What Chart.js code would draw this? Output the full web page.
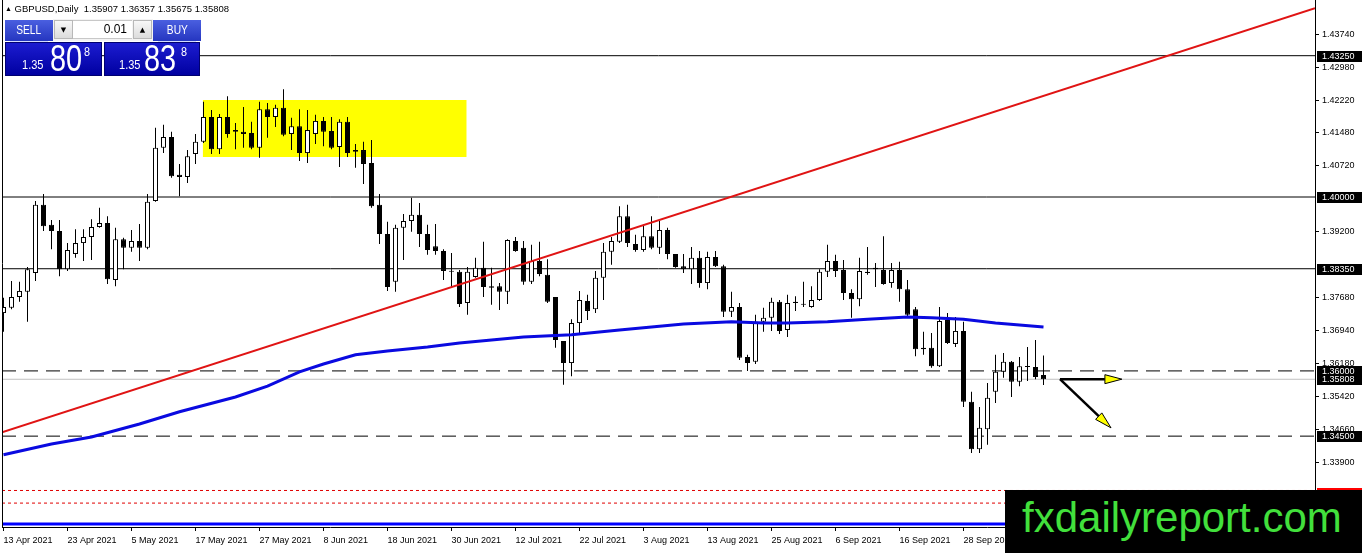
<!DOCTYPE html>
<html><head><meta charset="utf-8">
<script src="https://cdn.jsdelivr.net/npm/chart.js@4.4.0/dist/chart.umd.min.js"></script>
<style>
html,body{margin:0;padding:0;background:#fff;}
#wrap{position:relative;width:1362px;height:553px;overflow:hidden;}
#c{position:absolute;left:0;top:0;width:1362px;height:553px;}
#hdr{position:absolute;left:5px;top:3px;font:9.5px "Liberation Sans",Arial,sans-serif;color:#000;white-space:pre;}
#hdr .tri{font-size:7px;position:relative;top:-1px;}
.btn{position:absolute;top:20px;height:21px;width:48px;background:linear-gradient(#4a5fe0,#2536c0);color:#fff;font:12px "Liberation Sans",Arial,sans-serif;text-align:center;line-height:21px;}
.btn span{display:inline-block;transform:scaleX(0.85);}
.sep{position:absolute;top:41px;height:1px;background:rgba(200,210,255,0.8);}
.lot{position:absolute;left:53px;top:19px;width:100px;height:22px;background:#f4f4f4;}
.arr{position:absolute;top:1px;width:19px;height:19px;background:linear-gradient(#f8f8f8,#dcdcdc);border:1px solid #b8b8b8;box-sizing:border-box;font:7px "DejaVu Sans",sans-serif;text-align:center;line-height:18px;color:#000;}
.fld{position:absolute;left:20px;top:1px;width:59px;height:19px;background:#fff;border-top:1px solid #c8c8c8;border-bottom:1px solid #c8c8c8;box-sizing:border-box;font:12px "Liberation Sans",Arial,sans-serif;text-align:right;padding-right:5px;line-height:17px;color:#000;}
.price{position:absolute;top:42px;height:34px;background:linear-gradient(#1c1cd0,#0000a0);border:1px solid #000070;box-sizing:border-box;color:#fff;font-family:"Liberation Sans",Arial,sans-serif;}
.price span{position:absolute;line-height:1;white-space:nowrap;transform-origin:left top;}
.sm{font-size:13px;top:15px;transform:scaleX(0.85);}
.big{font-size:37px;top:-3px;transform:scaleX(0.78);}
.sup{font-size:12px;top:3px;transform:scaleX(0.9);}
#logo{position:absolute;left:1005px;top:490px;width:357px;height:63px;background:#000;}
#logo span{position:absolute;left:17px;top:7px;font:42px "Liberation Sans",Arial,sans-serif;line-height:42px;color:#42e03c;white-space:nowrap;}
</style></head>
<body>
<div id="wrap">
<canvas id="c" width="1362" height="553"></canvas>
<div id="hdr"></div>
<div class="btn" style="left:5px"><span>SELL</span></div>
<div class="lot"><div class="arr" style="left:1px">▼</div><div class="fld">0.01</div><div class="arr" style="left:80px">▲</div></div>
<div class="btn" style="left:153px"><span>BUY</span></div>
<div class="price" style="left:5px;width:97px"><span class="sm" style="left:16px">1.35</span><span class="big" style="left:44px">80</span><span class="sup" style="left:78px">8</span></div>
<div class="price" style="left:104px;width:96px"><span class="sm" style="left:14px">1.35</span><span class="big" style="left:39px">83</span><span class="sup" style="left:76px">8</span></div>
<div class="sep" style="left:10px;width:38px"></div>
<div class="sep" style="left:158px;width:38px"></div>
<div id="logo"><span>fxdailyreport.com</span></div>
</div>
<script>
// ---------- DATA ----------
const symbolTitle = "GBPUSD,Daily";
const xTickIdx = [0,8,16,24,32,40,48,56,64,72,80,88,96,104,112,120];
const xTickLabels = ["13 Apr 2021","23 Apr 2021","5 May 2021","17 May 2021","27 May 2021","8 Jun 2021","18 Jun 2021","30 Jun 2021","12 Jul 2021","22 Jul 2021","3 Aug 2021","13 Aug 2021","25 Aug 2021","6 Sep 2021","16 Sep 2021","28 Sep 2021"];
const yTickValues = [1.3390,1.3466,1.3542,1.3618,1.3694,1.3768,1.3920,1.4072,1.4148,1.4222,1.4298,1.4374];

const opens = [1.3733,1.3745,1.3770,1.3782,1.3825,1.3982,1.3936,1.3922,1.3834,1.3869,
1.3894,1.3908,1.3931,1.3940,1.3809,1.3903,1.3883,1.3899,1.3883,1.3991,
1.4113,1.4138,1.4051,1.4046,1.4099,1.4127,1.4184,1.4110,1.4184,1.4154,
1.4150,1.4147,1.4113,1.4202,1.4184,1.4205,1.4145,1.4163,1.4101,1.4145,
1.4175,1.4152,1.4115,1.4173,1.4104,1.4108,1.4078,1.3982,1.3915,1.3805,
1.3929,1.3945,1.3959,1.3915,1.3887,1.3876,1.3830,1.3828,1.3756,1.3816,
1.3837,1.3795,1.3795,1.3782,1.3899,1.3883,1.3805,1.3853,1.3821,1.3770,
1.3669,1.3618,1.3710,1.3761,1.3742,1.3814,1.3874,1.3897,1.3956,1.3892,
1.3878,1.3910,1.3883,1.3924,1.3869,1.3841,1.3834,1.3860,1.3802,1.3862,
1.3841,1.3736,1.3747,1.3632,1.3621,1.3713,1.3722,1.3759,1.3694,1.3759,
1.3754,1.3747,1.3763,1.3828,1.3853,1.3832,1.3779,1.3765,1.3828,1.3837,
1.3832,1.3802,1.3832,1.3788,1.3742,1.3653,1.3653,1.3611,1.3717,1.3662,
1.3692,1.3529,1.3420,1.3466,1.3552,1.3598,1.3621,1.3575,1.3609,1.3609,
1.35907];
const highs = [1.3768,1.3807,1.3805,1.3839,1.3991,1.4007,1.3947,1.3947,1.3894,1.3926,
1.3926,1.3949,1.3975,1.3956,1.3929,1.3906,1.3924,1.3938,1.4007,1.4159,
1.4166,1.4150,1.4076,1.4108,1.4145,1.4219,1.4200,1.4191,1.4232,1.4170,
1.4207,1.4173,1.4219,1.4216,1.4212,1.4248,1.4182,1.4202,1.4200,1.4189,
1.4184,1.4184,1.4179,1.4184,1.4122,1.4127,1.4131,1.4007,1.3943,1.3936,
1.3961,1.3998,1.3986,1.3936,1.3938,1.3880,1.3871,1.3832,1.3839,1.3860,
1.3897,1.3837,1.3802,1.3903,1.3908,1.3899,1.3890,1.3897,1.3857,1.3770,
1.3669,1.3719,1.3784,1.3775,1.3830,1.3894,1.3908,1.3979,1.3982,1.3913,
1.3936,1.3956,1.3945,1.3929,1.3869,1.3869,1.3885,1.3876,1.3874,1.3876,
1.3844,1.3782,1.3756,1.3637,1.3729,1.3745,1.3768,1.3763,1.3775,1.3772,
1.3805,1.3795,1.3834,1.3890,1.3867,1.3855,1.3788,1.3860,1.3885,1.3848,
1.3910,1.3848,1.3851,1.3809,1.3747,1.3690,1.3687,1.3747,1.3733,1.3724,
1.3713,1.3552,1.3517,1.3572,1.3637,1.3641,1.3623,1.3632,1.3655,1.3671,
1.36357];
const lows = [1.3690,1.3742,1.3759,1.3713,1.3807,1.3922,1.3880,1.3818,1.3830,1.3860,
1.3853,1.3855,1.3929,1.3800,1.3795,1.3834,1.3874,1.3853,1.3880,1.3989,
1.4101,1.4044,1.4002,1.4032,1.4076,1.4124,1.4099,1.4099,1.4136,1.4110,
1.4113,1.4110,1.4090,1.4136,1.4161,1.4140,1.4108,1.4083,1.4078,1.4122,
1.4117,1.4110,1.4069,1.4092,1.4067,1.4030,1.3975,1.3892,1.3784,1.3782,
1.3855,1.3920,1.3885,1.3867,1.3867,1.3809,1.3793,1.3747,1.3729,1.3814,
1.3770,1.3752,1.3740,1.3754,1.3874,1.3798,1.3800,1.3818,1.3756,1.3653,
1.3568,1.3588,1.3685,1.3717,1.3733,1.3763,1.3844,1.3894,1.3885,1.3874,
1.3874,1.3880,1.3869,1.3857,1.3837,1.3825,1.3800,1.3791,1.3788,1.3839,
1.3724,1.3724,1.3625,1.3600,1.3616,1.3690,1.3692,1.3685,1.3678,1.3738,
1.3747,1.3745,1.3761,1.3816,1.3816,1.3763,1.3722,1.3749,1.3821,1.3793,
1.3798,1.3791,1.3759,1.3726,1.3634,1.3637,1.3607,1.3609,1.3662,1.3655,
1.3517,1.3411,1.3411,1.3430,1.3526,1.3584,1.3540,1.3565,1.3577,1.3581,
1.35675];
const closes = [1.3747,1.3770,1.3784,1.3834,1.3982,1.3933,1.3922,1.3834,1.3878,1.3894,
1.3908,1.3931,1.3940,1.3811,1.3903,1.3883,1.3899,1.3883,1.3989,1.4113,
1.4138,1.4048,1.4046,1.4094,1.4127,1.4184,1.4110,1.4184,1.4145,1.4150,
1.4145,1.4113,1.4202,1.4184,1.4205,1.4143,1.4163,1.4101,1.4154,1.4175,
1.4150,1.4113,1.4173,1.4101,1.4108,1.4076,1.3979,1.3915,1.3793,1.3929,
1.3945,1.3959,1.3915,1.3878,1.3876,1.3830,1.3828,1.3754,1.3828,1.3837,
1.3793,1.3791,1.3782,1.3901,1.3876,1.3805,1.3853,1.3823,1.3759,1.3671,
1.3618,1.3710,1.3763,1.3738,1.3814,1.3874,1.3899,1.3956,1.3894,1.3878,
1.3910,1.3883,1.3924,1.3869,1.3839,1.3834,1.3860,1.3802,1.3862,1.3841,
1.3736,1.3747,1.3630,1.3618,1.3713,1.3722,1.3759,1.3692,1.3756,1.3756,
1.3752,1.3763,1.3828,1.3853,1.3830,1.3779,1.3765,1.3830,1.3825,1.3834,
1.3800,1.3832,1.3788,1.3729,1.3650,1.3650,1.3611,1.3715,1.3664,1.3692,
1.3529,1.3420,1.3469,1.3538,1.3598,1.3621,1.3575,1.3611,1.3611,1.3586,
1.35808];

// moving average read at sample bars
const maIdx = [0,6,11,17,22,29,33,37,40,44,48,53,57,61,65,71,77,81,85,91,95,98,103,108,113,116,120,124,130];
const maVal = [1.3407,1.3432,1.3448,1.3478,1.3506,1.3540,1.3565,1.3598,1.3616,1.3637,1.3646,1.3655,1.3664,1.3671,1.3678,1.3683,1.3694,1.3701,1.3708,1.3713,1.3710,1.3710,1.3713,1.3719,1.3724,1.3722,1.3719,1.3710,1.3701];

// trend line end points (bar index, price)
const trendX = [-0.1875, 163.9375];
const trendY = [1.3459, 1.4434];

// zone rectangle
const zoneX = [24.9, 57.9];
const zoneY = [1.4092, 1.4223];

// horizontal levels
const solidLevels = [1.43250, 1.40000, 1.38350];
const dashedLevels = [1.36000, 1.34500];
const bidLevel = 1.35808;
const dottedLevels = [1.3325, 1.3296];
const blueLevel = 1.3248;
const boxLabels = [1.43250, 1.40000, 1.38350, 1.36000, 1.35808, 1.34500];
const redBoxLabels = [1.33200];

// arrows: start and tip (bar index, price)
const arrowsFrom = [[132.06, 1.3581],[132.06, 1.3581]];
const arrowsTo = [[139.8, 1.3581],[138.44, 1.3469]];

// axis extents
const xMin = -0.1875, xMax = 163.9375;
const yMin = 1.3241, yMax = 1.44531;

// ---------- header ----------
const L = opens.length - 1;
document.getElementById('hdr').innerHTML = '<span class="tri">▲</span> ' + symbolTitle + '  ' +
  [opens[L], highs[L], lows[L], closes[L]].map(v => v.toFixed(5)).join(' ');

// ---------- build datasets ----------
const idx = opens.map((_, i) => i);
const wickData = idx.map(i => ({x: i, y: [lows[i], highs[i]]}));
const bodyData = idx.map(i => ({x: i, y: [opens[i], closes[i]]}));
const bodyColors = idx.map(i => closes[i] >= opens[i] ? '#ffffff' : '#000000');
const hline = v => [{x: xMin, y: v}, {x: xMax, y: v}];

const datasets = [];
datasets.push({type: 'line', data: [{x: zoneX[0], y: zoneY[1]}, {x: zoneX[1], y: zoneY[1]}],
  fill: {value: zoneY[0]}, backgroundColor: '#ffff00', borderWidth: 0, pointRadius: 0, order: 30});
solidLevels.forEach(v => datasets.push({type: 'line', data: hline(v), borderColor: '#000', borderWidth: 1, pointRadius: 0, order: 20}));
dashedLevels.forEach(v => datasets.push({type: 'line', data: hline(v), borderColor: '#000', borderWidth: 1, borderDash: [14, 8], pointRadius: 0, order: 20}));
datasets.push({type: 'line', data: hline(bidLevel), borderColor: '#c0c0c0', borderWidth: 1, pointRadius: 0, order: 21});
dottedLevels.forEach(v => datasets.push({type: 'line', data: hline(v), borderColor: '#e00000', borderWidth: 1, borderDash: [3, 3], pointRadius: 0, order: 20}));
datasets.push({type: 'line', data: hline(blueLevel), borderColor: '#0000ff', borderWidth: 3, pointRadius: 0, order: 20});
datasets.push({type: 'bar', data: wickData, backgroundColor: '#000', borderWidth: 0, barThickness: 1, inflateAmount: 0, grouped: false, order: 10});
datasets.push({type: 'bar', data: bodyData, backgroundColor: bodyColors, borderColor: '#000', borderWidth: 1, borderSkipped: false, barThickness: 5, minBarLength: 1, inflateAmount: 0, grouped: false, order: 9});
datasets.push({type: 'line', data: maIdx.map((x, i) => ({x, y: maVal[i]})), borderColor: '#0a0ae0', borderWidth: 3, pointRadius: 0, order: 3});
datasets.push({type: 'line', data: trendX.map((x, i) => ({x, y: trendY[i]})), borderColor: '#e01414', borderWidth: 2, pointRadius: 0, order: 2});

const overlay = {
  id: 'overlay',
  afterDatasetsDraw(chart) {
    const ctx = chart.ctx, xs = chart.scales.x, ys = chart.scales.y, a = chart.chartArea;
    ctx.save();
    ctx.strokeStyle = '#000'; ctx.lineWidth = 1;
    ctx.beginPath(); ctx.moveTo(a.left + 0.5, a.top); ctx.lineTo(a.left + 0.5, a.bottom); ctx.stroke();
    arrowsFrom.forEach((f, k) => {
      const t = arrowsTo[k];
      const x0 = xs.getPixelForValue(f[0]), y0 = ys.getPixelForValue(f[1]);
      const x1 = xs.getPixelForValue(t[0]), y1 = ys.getPixelForValue(t[1]);
      const len = Math.hypot(x1 - x0, y1 - y0), ux = (x1 - x0) / len, uy = (y1 - y0) / len;
      const hl = 17, hw = 4.5;
      const bx = x1 - ux * hl, by = y1 - uy * hl;
      ctx.strokeStyle = '#000'; ctx.lineWidth = 2.5;
      ctx.beginPath(); ctx.moveTo(x0, y0); ctx.lineTo(bx, by); ctx.stroke();
      ctx.beginPath();
      ctx.moveTo(x1, y1);
      ctx.lineTo(bx - uy * hw, by + ux * hw);
      ctx.lineTo(bx + uy * hw, by - ux * hw);
      ctx.closePath();
      ctx.fillStyle = '#ffff00'; ctx.fill();
      ctx.lineWidth = 1; ctx.stroke();
    });
    ctx.restore();
  },
  afterDraw(chart) {
    const ctx = chart.ctx, ys = chart.scales.y;
    ctx.save();
    ctx.font = '9px "Liberation Sans", Arial, sans-serif';
    ctx.textBaseline = 'middle'; ctx.textAlign = 'left';
    const draw = (v, bg) => {
      const y = Math.round(ys.getPixelForValue(v));
      ctx.fillStyle = bg;
      ctx.fillRect(ys.left + 2, y - 5, chart.width - ys.left - 2, 11);
      ctx.fillStyle = '#fff';
      ctx.fillText(v.toFixed(5), ys.left + 7, y + 0.5);
    };
    boxLabels.forEach(v => draw(v, '#000'));
    redBoxLabels.forEach(v => draw(v, '#ff0000'));
    ctx.restore();
  }
};

new Chart(document.getElementById('c'), {
  type: 'bar',
  data: {datasets},
  options: {
    responsive: false, animation: false, devicePixelRatio: 1, events: [],
    layout: {padding: {left: 2, right: 0, top: 0, bottom: 0}},
    plugins: {legend: {display: false}, tooltip: {enabled: false}},
    scales: {
      x: {
        type: 'linear', min: xMin, max: xMax, offset: false,
        afterBuildTicks: s => { s.ticks = xTickIdx.map(v => ({value: v})); },
        afterFit: s => { s.height = 26; s.paddingLeft = 0; s.paddingRight = 0; },
        ticks: {callback: v => { const k = xTickIdx.indexOf(v); return k >= 0 ? xTickLabels[k] : ''; },
          align: 'start', autoSkip: false, maxRotation: 0, minRotation: 0, padding: 4, color: '#000',
          font: {family: '"Liberation Sans", Arial, sans-serif', size: 9}},
        grid: {drawOnChartArea: false, drawTicks: true, tickLength: 4, color: '#000', offset: false},
        border: {display: true, color: '#000', width: 1}
      },
      y: {
        type: 'linear', position: 'right', min: yMin, max: yMax, beginAtZero: false,
        afterBuildTicks: s => { s.ticks = yTickValues.map(v => ({value: v})); },
        afterFit: s => { s.width = 47; s.paddingTop = 0; s.paddingBottom = 0; },
        ticks: {callback: v => Number(v).toFixed(5), autoSkip: false, padding: 3, color: '#000',
          font: {family: '"Liberation Sans", Arial, sans-serif', size: 9}},
        grid: {drawOnChartArea: false, drawTicks: true, tickLength: 4, color: '#000'},
        border: {display: true, color: '#000', width: 1}
      }
    }
  },
  plugins: [overlay]
});
</script>
</body></html>
